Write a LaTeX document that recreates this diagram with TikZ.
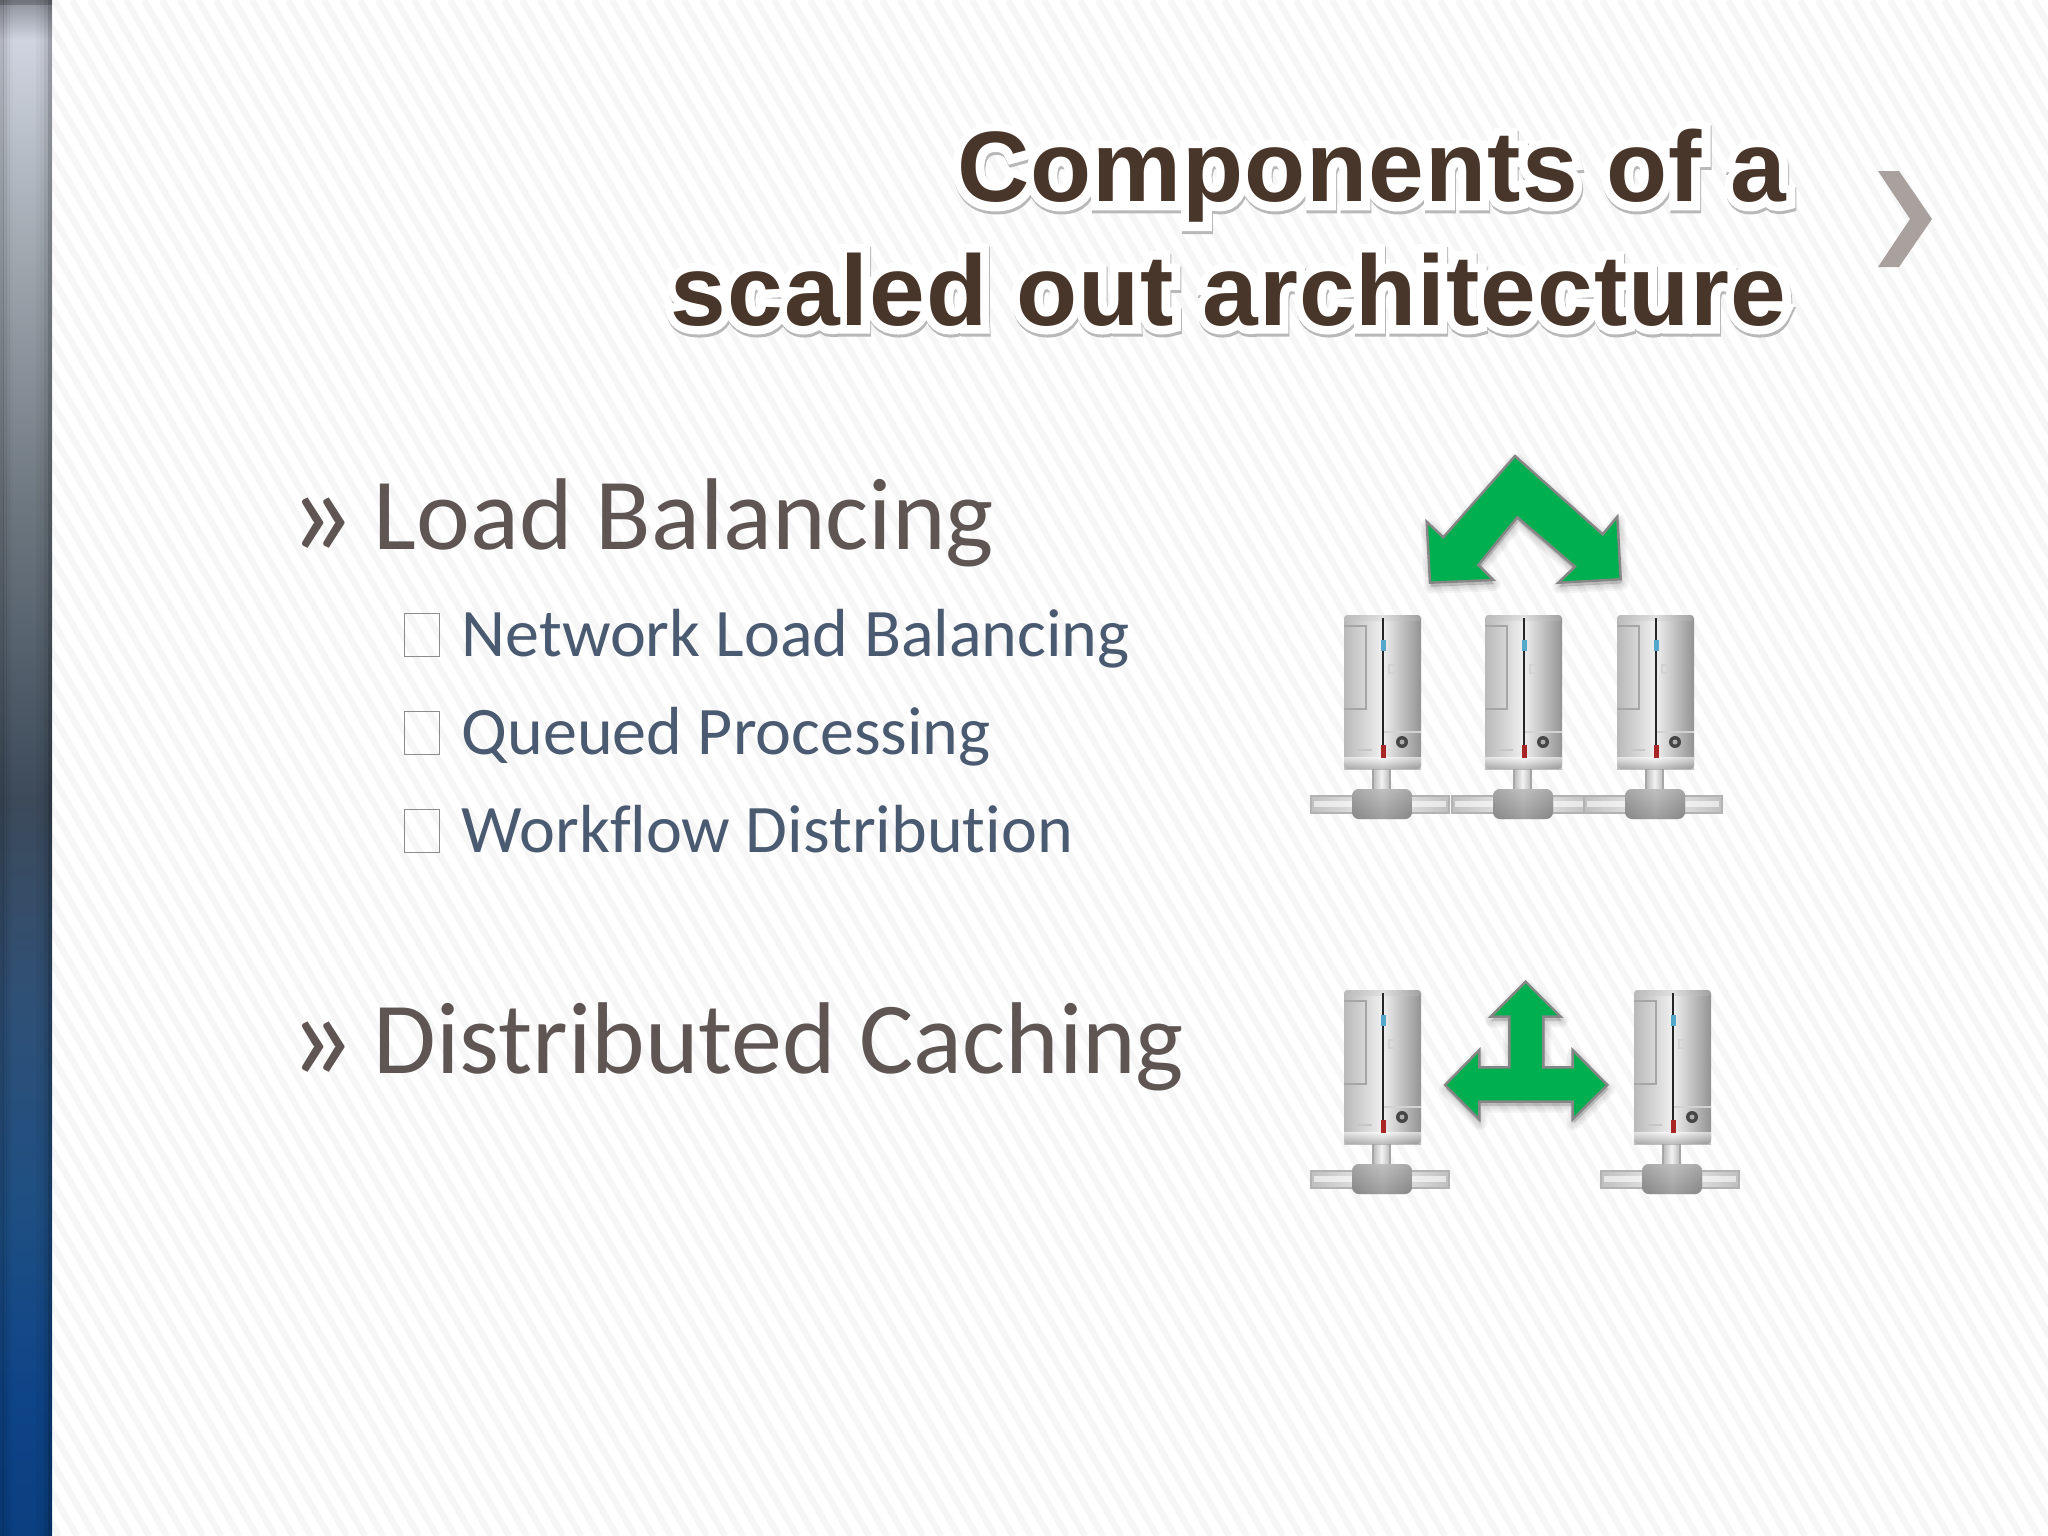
\documentclass[tikz,border=0pt]{standalone}
\usepackage{xcolor}
\usepackage{fontspec}
\setmainfont[Ligatures=NoCommon]{Carlito}
\newfontface\titlefont[LetterSpace=1]{Liberation Sans Bold}
\newfontface\titlehalo[FakeBold=17,LetterSpace=1]{Liberation Sans Bold}
\definecolor{itemgray}{HTML}{5F5654}
\definecolor{subblue}{HTML}{4A5A70}
\definecolor{titlebrown}{HTML}{49362B}
\definecolor{flowgreen}{HTML}{00B050}
\definecolor{chevrongray}{HTML}{A9A19D}
\definecolor{bara}{HTML}{0A3F80}
\definecolor{barb}{HTML}{0E4488}
\definecolor{barc}{HTML}{1F4F82}
\definecolor{bard}{HTML}{2F5076}
\definecolor{bare}{HTML}{3C4A5A}
\definecolor{barf}{HTML}{6E7880}
\definecolor{barg}{HTML}{A0A8B0}
\definecolor{barh}{HTML}{D0D4E0}
\definecolor{bari}{HTML}{8C909A}
\pgfdeclareverticalshading{barshade}{100bp}{color(0bp)=(bara); color(25bp)=(bara); color(29.45bp)=(barb); color(35.95bp)=(barc); color(42.45bp)=(bard); color(48.95bp)=(bare); color(58.7bp)=(barf); color(66.85bp)=(barg); color(73.7bp)=(barh); color(75bp)=(bari); color(100bp)=(bari)}
\def\balancepath{(1515,456) -- (1602.7,534.3) -- (1617.3,516.7) -- (1620.7,579.3) -- (1558.3,582.7) -- (1575,566.7) -- (1517.3,517.3) -- (1478.3,565) -- (1493.3,580) -- (1430,582.7) -- (1426.7,521.7) -- (1443.3,537.3) -- cycle}
\def\cachepath{(1525.7,981.7) -- (1560.7,1016.7) -- (1543.3,1016.7) -- (1543.3,1067.3) -- (1572.7,1067.3) -- (1572.7,1050) -- (1607.3,1085) -- (1572.7,1119.3) -- (1572.7,1101.7) -- (1479.3,1101.7) -- (1479.3,1119.3) -- (1445,1085) -- (1479.3,1050) -- (1479.3,1067.3) -- (1509.3,1067.3) -- (1509.3,1016.7) -- (1490.7,1016.7) -- cycle}
\def\titletext{Components of a\\scaled out architecture}

\begin{document}
\begin{tikzpicture}[x=0.01cm,y=-0.01cm,
			item/.style={anchor=base west, inner sep=0pt, text=itemgray, font=\fontsize{29}{34}\selectfont},
			itemmark/.style={anchor=base west, inner sep=0pt, text=itemgray, font=\fontsize{38}{40}\selectfont},
			subitem/.style={anchor=base west, inner sep=0pt, text=subblue, font=\fontsize{19.35}{23}\selectfont},
			tickbox/.style={draw=gray!90, line width=.3pt, inner sep=0pt, minimum width=0.35cm, minimum height=0.43cm, anchor=north west},
			titleline/.style={anchor=base east, inner sep=0pt, align=right},
			flow/.style={fill=flowgreen, draw=gray!95, line width=.7pt},
			flowglow/.style={draw=black, fill=black, opacity=.04, line join=round, shift={(1,4)}},
			server/.pic={
				\draw[draw=gray!60, line width=.3pt, left color=gray!50, right color=gray!50, middle color=gray!12] (-33,181) rectangle (105,198);
				\fill[white, opacity=.6] (-30,186) rectangle (102,192);
				\draw[draw=gray!70, line width=.3pt, left color=gray!55, right color=gray!55, middle color=gray!10] (29,150) rectangle (46,176);
				\shade[left color=gray!100, right color=gray!100, middle color=gray!60, rounded corners=2pt] (8,174) rectangle (68,204);
				\shade[top color=gray!40, bottom color=gray!90, opacity=.5, rounded corners=2pt] (8,174) rectangle (68,204);
				\shade[left color=gray!55, right color=gray!85, middle color=gray!12, rounded corners=1pt] (0,0) rectangle (77,154);
				\shade[top color=gray!55, bottom color=gray!45, opacity=.3, rounded corners=1pt] (0,0) rectangle (77,6);
				\shade[top color=white, bottom color=gray!80, opacity=.6] (0,142) rectangle (77,154);
				\draw[gray!70, line width=.4pt] (0,11) -- (22,11) -- (22,94) -- (0,94);
				\draw[gray!35, line width=.3pt] (39,117) -- (77,117);
				\draw[gray!45, line width=.3pt] (14,135) -- (28,135);
				\draw[gray!35, line width=.3pt] (45,50) rectangle (51,58);
				\draw[black!85, line width=.7pt] (39,3) -- (39,130);
				\fill[cyan!60!gray] (37,25) rectangle (41.5,36);
				\fill[red!60!black!85] (37,130) rectangle (42,143);
				\fill[gray!55!black] (58,127) circle [radius=6];
				\fill[gray!65] (58,127) circle [radius=2.5];
			}]
	\fill[white] (0,0) rectangle (2048,1536);
	\useasboundingbox (0,0) rectangle (2048,1536);
	\foreach \x in {-900,-882,...,2048}
		\draw[black!3.5, line width=1.8pt] (\x,0) -- (\x+887,1536);
	\shade[shading=barshade] (0,0) rectangle (52,1536);
	\foreach \x/\o in {0/.14,3/.09,6/.05,9/.02,36/.03,40/.06,44/.12,48/.25}
		\fill[black, opacity=\o] (\x,0) rectangle (\x+4,1536);
	\fill[black, opacity=.2] (0,0) rectangle (52,5);

	\node[titleline, text=black!28, font=\titlehalo\fontsize{28.45}{35}\selectfont] (titleshadow) at (1788,328) {\titletext};
	\node[titleline, text=white, font=\titlehalo\fontsize{28.45}{35}\selectfont] (titleoutline) at (1787,325) {\titletext};
	\node[titleline, text=titlebrown, font=\titlefont\fontsize{28.45}{35}\selectfont] (title) at (1787,325) {\titletext};
	\fill[chevrongray] (1878,171) -- (1899,171) -- (1932,219) -- (1899,267) -- (1878,267) -- (1910,219) -- cycle;

	\node[itemmark] (markload) at (287,556) {»};
	\node[item] (load) at (373,549) {Load Balancing};
	\node[tickbox] (boxnetwork) at (404,613) {};
	\node[subitem] (network) at (461,656) {Network Load Balancing};
	\node[tickbox] (boxqueued) at (404,711) {};
	\node[subitem] (queued) at (461,754) {Queued Processing};
	\node[tickbox] (boxworkflow) at (404,809) {};
	\node[subitem] (workflow) at (461,852) {Workflow Distribution};
	\node[itemmark] (markcache) at (287,1080) {»};
	\node[item] (cache) at (373,1073) {Distributed Caching};

	\foreach \w in {14,10,6,2} {
		\draw[flowglow, line width=\w*0.284pt] \balancepath;
		\draw[flowglow, line width=\w*0.284pt] \cachepath;
	}
	\draw[flow] \balancepath;
	\draw[flow] \cachepath;

	\pic (servera) at (1344,615) {server};
	\pic (serverb) at (1485,615) {server};
	\pic (serverc) at (1617,615) {server};
	\pic (serverd) at (1344,990) {server};
	\pic (servere) at (1634,990) {server};
\end{tikzpicture}
\end{document}
